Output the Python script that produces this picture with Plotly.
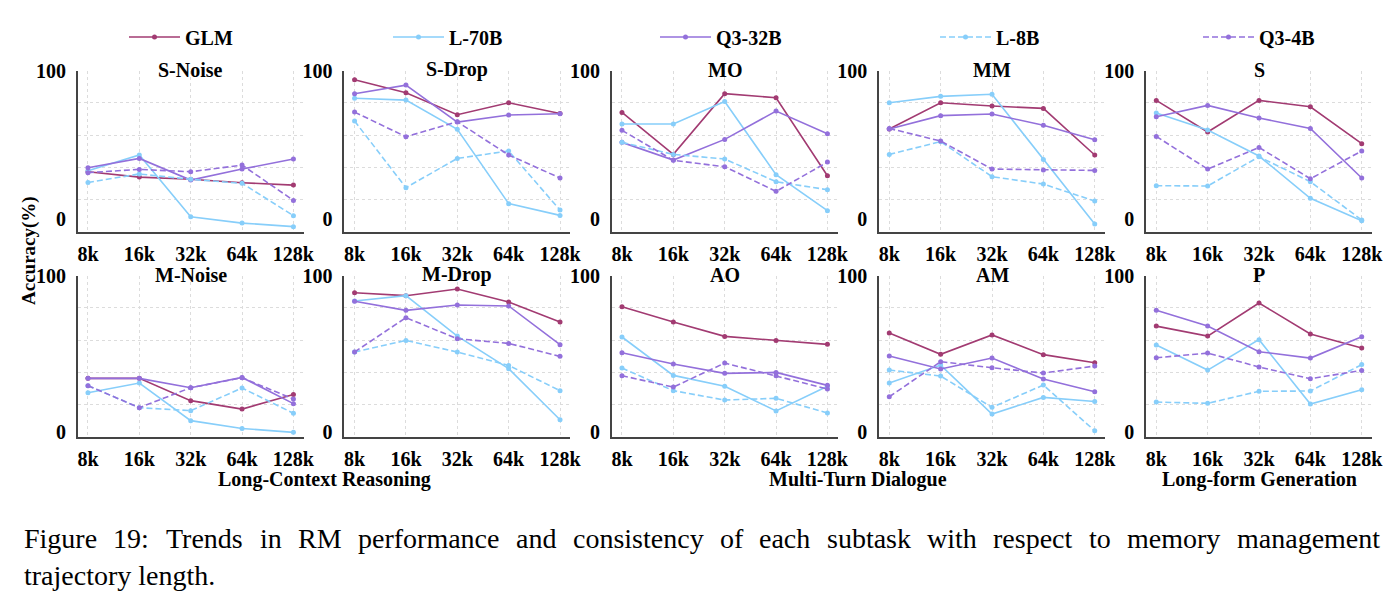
import numpy as np
import plotly.graph_objects as go

# ---------------- data ----------------
CATEGORIES = ["8k", "16k", "32k", "64k", "128k"]
SUBTASKS = ["S-Noise", "S-Drop", "MO", "MM", "S",
            "M-Noise", "M-Drop", "AO", "AM", "P"]
MODELS = ["GLM", "L-70B", "Q3-32B", "L-8B", "Q3-4B"]
GROUP_LABELS = ["Long-Context Reasoning", "Multi-Turn Dialogue", "Long-form Generation"]
Y_TICK_VALUES = [0, 100]
Y_TICK_TEXT = ["0", "100"]
CAPTION_LINE1 = ("Figure 19:  Trends in RM performance and consistency of each subtask "
                 "with respect to memory management")
CAPTION_LINE2 = "trajectory length."

# one row per subtask (same order as SUBTASKS), one value per context length
GLM = [
    [31.9, 28.3, 26.8, 24.5, 22.9],
    [93.9, 85.2, 70.3, 78.4, 71.2],
    [71.9, 43.6, 84.5, 81.8, 29.2],
    [60.7, 78.4, 76.2, 74.6, 43.2],
    [80.0, 58.7, 80.0, 75.7, 50.8],
    [34.2, 34.2, 19.9, 14.5, 23.9],
    [89.1, 87.2, 91.5, 83.1, 70.3],
    [80.1, 70.3, 61.1, 58.5, 56.0],
    [63.2, 49.6, 62.0, 49.4, 44.2],
    [67.7, 61.3, 82.5, 62.6, 53.6],
]
L70B = [
    [32.6, 43.2, 1.6, -2.7, -5.1],
    [81.4, 80.2, 60.5, 10.4, 2.5],
    [64.1, 64.1, 79.3, 29.9, 5.7],
    [78.4, 82.7, 84.1, 40.2, -3.3],
    [71.5, 60.0, 42.5, 14.0, -1.1],
    [25.0, 31.2, 7.1, 2.1, -0.4],
    [83.8, 87.2, 61.3, 40.4, 7.7],
    [60.7, 36.1, 29.1, 13.3, 29.1],
    [31.2, 42.7, 11.3, 22.0, 19.4],
    [55.6, 39.5, 59.0, 17.7, 26.9],
]
Q3_32B = [
    [34.6, 40.9, 26.3, 33.7, 40.5],
    [84.5, 90.3, 65.4, 70.1, 71.0],
    [51.7, 39.8, 53.7, 72.8, 57.5],
    [60.7, 69.7, 70.8, 63.2, 53.5],
    [69.0, 76.6, 68.1, 61.1, 27.7],
    [34.2, 34.2, 28.2, 34.8, 18.0],
    [83.6, 77.8, 81.2, 80.6, 55.8],
    [50.6, 43.4, 37.4, 38.0, 29.7],
    [48.5, 40.2, 47.2, 33.8, 25.6],
    [77.8, 67.7, 51.3, 47.2, 60.9],
]
L8B = [
    [24.7, 30.4, 26.8, 24.1, 2.3],
    [66.1, 21.2, 40.9, 45.9, 6.1],
    [51.7, 43.6, 40.5, 25.2, 19.8],
    [43.6, 52.2, 28.6, 23.6, 12.2],
    [22.5, 22.3, 42.0, 25.2, -0.6],
    [29.5, 15.4, 13.5, 28.0, 11.8],
    [51.1, 58.5, 51.1, 42.5, 26.3],
    [40.8, 26.3, 20.3, 21.4, 12.0],
    [39.5, 35.7, 15.6, 29.9, 0.6],
    [19.0, 18.2, 25.9, 26.1, 43.0],
]
Q3_4B = [
    [31.3, 33.5, 31.9, 36.4, 12.6],
    [72.1, 55.5, 65.6, 43.2, 27.7],
    [59.8, 39.6, 35.3, 18.7, 38.4],
    [61.1, 52.6, 33.7, 33.1, 32.8],
    [55.7, 33.7, 48.3, 27.2, 45.9],
    [29.5, 15.4, 28.2, 34.6, 20.9],
    [51.1, 73.1, 59.6, 56.6, 48.3],
    [35.9, 28.6, 44.0, 35.9, 27.4],
    [22.4, 44.9, 41.0, 37.6, 42.1],
    [47.4, 50.4, 41.5, 34.0, 39.3],
]

SERIES = [GLM, L70B, Q3_32B, L8B, Q3_4B]
COLORS = ["#A23B72", "#87CEFA", "#9370DB", "#87CEFA", "#9370DB"]
DASHES = ["solid", "solid", "solid", "6px,3px", "6px,3px"]

# ---------------- layout geometry ----------------
W, H = 1398, 606
FONT = "Liberation Serif"
col_left_px = [77.7, 344.3, 611.7, 879.0, 1146.0]
col_width_px = 226.0
row_px = [(70.7, 231.7), (275.7, 436.7)]  # (top, bottom) in pixels
row_yrange = [(-8.5, 100.0), (-3.2, 100.0)]
legend_text_px = [185, 449, 716, 996, 1259]   # left edge of each legend label

GRID = "#dcdcdc"
SPINE = "#444444"

fig = go.Figure()
layout = {}
annotations = []

for k, name in enumerate(SUBTASKS):
    r, c = divmod(k, 5)
    idx = k + 1
    xa = "xaxis" if idx == 1 else f"xaxis{idx}"
    ya = "yaxis" if idx == 1 else f"yaxis{idx}"
    xref = "x" if idx == 1 else f"x{idx}"
    yref = "y" if idx == 1 else f"y{idx}"
    x0 = col_left_px[c] / W
    x1 = (col_left_px[c] + col_width_px) / W
    top, bot = row_px[r]
    y0 = 1 - bot / H
    y1 = 1 - top / H
    ymin, ymax = row_yrange[r]

    layout[xa] = dict(
        domain=[x0, x1], anchor=yref, range=[-0.2, 4.2],
        tickmode="array", tickvals=list(range(len(CATEGORIES))), ticktext=CATEGORIES,
        showgrid=True, gridcolor=GRID, gridwidth=0.8, griddash="3px,3px",
        showline=True, linecolor=SPINE, linewidth=1.5, ticks="",
        zeroline=False, ticklabelstandoff=4,
        tickfont=dict(family=FONT, size=20, color="black", weight="bold"),
        fixedrange=True,
    )
    layout[ya] = dict(
        domain=[y0, y1], anchor=xref, range=[ymin, ymax],
        tickmode="array", tickvals=Y_TICK_VALUES, ticktext=Y_TICK_TEXT,
        showgrid=False, zeroline=False,
        minor=dict(tickmode="array", tickvals=list(np.linspace(ymin, ymax, 6)),
                   showgrid=True, gridcolor=GRID, gridwidth=0.8, griddash="3px,3px",
                   ticks=""),
        showline=True, linecolor=SPINE, linewidth=1.5, ticks="",
        ticklabelstandoff=6,
        tickfont=dict(family=FONT, size=20, color="black", weight="bold"),
        fixedrange=True,
    )

    for m, (model, data) in enumerate(zip(MODELS, SERIES)):
        leg = "legend" if m == 0 else f"legend{m + 1}"
        fig.add_trace(go.Scatter(
            x=list(range(len(CATEGORIES))), y=data[k],
            mode="lines+markers", name=model, legendgroup=model,
            legend=leg, showlegend=(k == 0),
            line=dict(color=COLORS[m], width=1.6, dash=DASHES[m]),
            marker=dict(color=COLORS[m], size=5),
            xaxis=xref, yaxis=yref,
        ))

    title_y_px = 69.5 if r == 0 else 274.5
    annotations.append(dict(
        text=name, x=(x0 + x1) / 2, y=1 - title_y_px / H, xref="paper", yref="paper",
        xanchor="center", yanchor="middle", showarrow=False,
        font=dict(family=FONT, size=20, color="black", weight="bold"),
    ))

# group labels under the bottom row
group_centers_px = [
    (col_left_px[0] + col_left_px[1] + col_width_px) / 2,
    (col_left_px[2] + col_left_px[3] + col_width_px) / 2,
    col_left_px[4] + col_width_px / 2,
]
for label, cx in zip(GROUP_LABELS, group_centers_px):
    annotations.append(dict(
        text=label, x=cx / W, y=1 - 479 / H, xref="paper", yref="paper",
        xanchor="center", yanchor="middle", showarrow=False,
        font=dict(family=FONT, size=20, color="black", weight="bold"),
    ))

# shared y label
annotations.append(dict(
    text="Accuracy(%)", x=29 / W, y=1 - 251 / H, xref="paper", yref="paper",
    xanchor="center", yanchor="middle", textangle=-90, showarrow=False,
    font=dict(family=FONT, size=19, color="black", weight="bold"),
))

# caption: first line justified between the page margins (word by word)
CAP_SIZE = 28
TNR = {  # Times New Roman advance widths (1/1000 em)
    "a": 444, "b": 500, "c": 444, "d": 500, "e": 444, "f": 333, "g": 500, "h": 500,
    "i": 278, "j": 278, "k": 500, "l": 278, "m": 778, "n": 500, "o": 500, "p": 500,
    "q": 500, "r": 333, "s": 389, "t": 278, "u": 500, "v": 500, "w": 722, "x": 500,
    "y": 500, "z": 444, "F": 556, "M": 889, "R": 667, "T": 611, ":": 278, ".": 250,
    "1": 500, "9": 500,
}


def text_w(s):
    return sum(TNR.get(ch, 500) for ch in s) / 1000 * CAP_SIZE


words = CAPTION_LINE1.replace("19:  ", "19: ").split(" ")
cap_left, cap_right = 22, 1378
natural = sum(text_w(w) for w in words)
gap = (cap_right - cap_left - natural) / (len(words) - 1)
xpos = cap_left
for w in words:
    annotations.append(dict(
        text=w, x=xpos / W, y=1 - 538 / H, xref="paper", yref="paper",
        xanchor="left", yanchor="middle", showarrow=False,
        font=dict(family=FONT, size=CAP_SIZE, color="black"),
    ))
    xpos += text_w(w) + gap
annotations.append(dict(
    text=CAPTION_LINE2,
    x=cap_left / W, y=1 - 575 / H, xref="paper", yref="paper",
    xanchor="left", yanchor="middle", showarrow=False,
    font=dict(family=FONT, size=CAP_SIZE, color="black"),
))

legends = {}
for m, tx in enumerate(legend_text_px):
    key = "legend" if m == 0 else f"legend{m + 1}"
    legends[key] = dict(
        orientation="h", x=(tx - 61) / W, y=1 - 37 / H, xanchor="left", yanchor="middle",
        itemwidth=51,
        font=dict(family=FONT, size=20, color="black", weight="bold"),
        bgcolor="rgba(0,0,0,0)", borderwidth=0,
    )

fig.update_layout(
    **layout,
    **legends,
    annotations=annotations,
    width=W, height=H,
    margin=dict(l=0, r=0, t=0, b=0, autoexpand=False),
    paper_bgcolor="white", plot_bgcolor="white",
    showlegend=True,
)

fig.write_html("out.html")
